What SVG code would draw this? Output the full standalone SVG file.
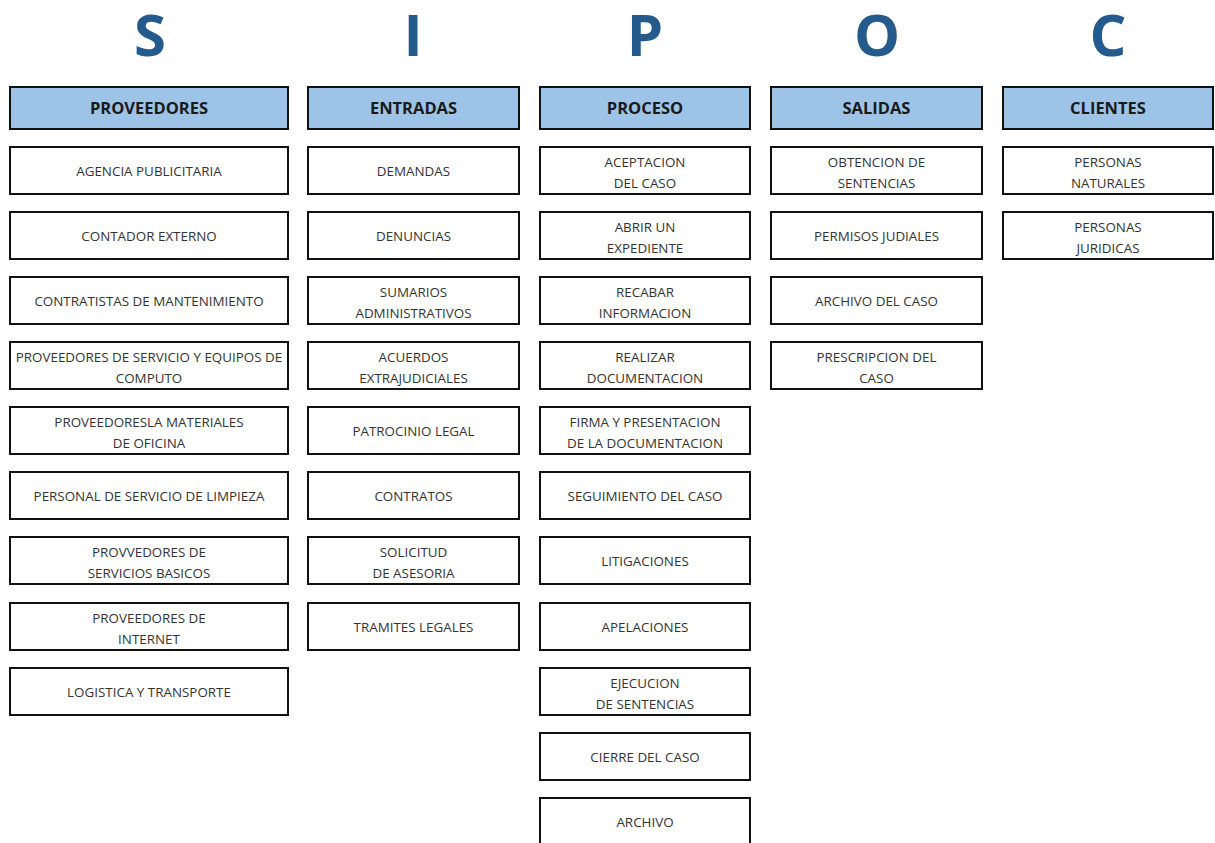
<svg xmlns="http://www.w3.org/2000/svg" width="1215" height="843" viewBox="0 0 1215 843">
  <style>
    .letter { font-family: "Open Sans", "Liberation Sans", sans-serif; font-weight: 700; font-size: 58px; fill: #245a8c; text-anchor: middle; }
    .head rect { fill: #9dc3e6; stroke: #111; stroke-width: 2; }
    .head text { font-family: "Open Sans", "Liberation Sans", sans-serif; font-weight: 700; font-size: 16.5px; fill: #1a1a1a; text-anchor: middle; }
    .box rect { fill: #fff; stroke: #111; stroke-width: 2; }
    .box text { font-family: "Open Sans", "Liberation Sans", sans-serif; font-size: 13.4px; fill: #333; text-anchor: middle; }
  </style>
  <rect width="1215" height="843" fill="#fff"/>

  <!-- title letters -->
  <g id="letters">
    <text class="letter" x="150" y="56">S</text>
    <text class="letter" x="413" y="56">I</text>
    <text class="letter" x="645" y="56">P</text>
    <text class="letter" x="877" y="56">O</text>
    <text class="letter" x="1108" y="56">C</text>
  </g>

  <!-- column headers -->
  <g id="h-proveedores" class="head"><rect x="10" y="87" width="278" height="42"/><text x="149" y="114">PROVEEDORES</text></g>
  <g id="h-entradas" class="head"><rect x="308" y="87" width="211" height="42"/><text x="413.5" y="114">ENTRADAS</text></g>
  <g id="h-proceso" class="head"><rect x="540" y="87" width="210" height="42"/><text x="645" y="114">PROCESO</text></g>
  <g id="h-salidas" class="head"><rect x="771" y="87" width="211" height="42"/><text x="876.5" y="114">SALIDAS</text></g>
  <g id="h-clientes" class="head"><rect x="1003" y="87" width="210" height="42"/><text x="1108" y="114">CLIENTES</text></g>

  <!-- proveedores -->
  <g id="s1" class="box"><rect x="10" y="147" width="278" height="47"/><text x="149" y="176">AGENCIA PUBLICITARIA</text></g>
  <g id="s2" class="box"><rect x="10" y="212" width="278" height="47"/><text x="149" y="241">CONTADOR EXTERNO</text></g>
  <g id="s3" class="box"><rect x="10" y="277" width="278" height="47"/><text x="149" y="306">CONTRATISTAS DE MANTENIMIENTO</text></g>
  <g id="s4" class="box"><rect x="10" y="342" width="278" height="47"/><text x="149" y="362">PROVEEDORES DE SERVICIO Y EQUIPOS DE</text><text x="149" y="383">COMPUTO</text></g>
  <g id="s5" class="box"><rect x="10" y="407" width="278" height="47"/><text x="149" y="427">PROVEEDORESLA MATERIALES</text><text x="149" y="448">DE OFICINA</text></g>
  <g id="s6" class="box"><rect x="10" y="472" width="278" height="47"/><text x="149" y="501">PERSONAL DE SERVICIO DE LIMPIEZA</text></g>
  <g id="s7" class="box"><rect x="10" y="537" width="278" height="47"/><text x="149" y="557">PROVVEDORES DE</text><text x="149" y="578">SERVICIOS BASICOS</text></g>
  <g id="s8" class="box"><rect x="10" y="603" width="278" height="47"/><text x="149" y="623">PROVEEDORES DE</text><text x="149" y="644">INTERNET</text></g>
  <g id="s9" class="box"><rect x="10" y="668" width="278" height="47"/><text x="149" y="697">LOGISTICA Y TRANSPORTE</text></g>

  <!-- entradas -->
  <g id="i1" class="box"><rect x="308" y="147" width="211" height="47"/><text x="413.5" y="176">DEMANDAS</text></g>
  <g id="i2" class="box"><rect x="308" y="212" width="211" height="47"/><text x="413.5" y="241">DENUNCIAS</text></g>
  <g id="i3" class="box"><rect x="308" y="277" width="211" height="47"/><text x="413.5" y="297">SUMARIOS</text><text x="413.5" y="318">ADMINISTRATIVOS</text></g>
  <g id="i4" class="box"><rect x="308" y="342" width="211" height="47"/><text x="413.5" y="362">ACUERDOS</text><text x="413.5" y="383">EXTRAJUDICIALES</text></g>
  <g id="i5" class="box"><rect x="308" y="407" width="211" height="47"/><text x="413.5" y="436">PATROCINIO LEGAL</text></g>
  <g id="i6" class="box"><rect x="308" y="472" width="211" height="47"/><text x="413.5" y="501">CONTRATOS</text></g>
  <g id="i7" class="box"><rect x="308" y="537" width="211" height="47"/><text x="413.5" y="557">SOLICITUD</text><text x="413.5" y="578">DE ASESORIA</text></g>
  <g id="i8" class="box"><rect x="308" y="603" width="211" height="47"/><text x="413.5" y="632">TRAMITES LEGALES</text></g>

  <!-- proceso -->
  <g id="p1" class="box"><rect x="540" y="147" width="210" height="47"/><text x="645" y="167">ACEPTACION</text><text x="645" y="188">DEL CASO</text></g>
  <g id="p2" class="box"><rect x="540" y="212" width="210" height="47"/><text x="645" y="232">ABRIR UN</text><text x="645" y="253">EXPEDIENTE</text></g>
  <g id="p3" class="box"><rect x="540" y="277" width="210" height="47"/><text x="645" y="297">RECABAR</text><text x="645" y="318">INFORMACION</text></g>
  <g id="p4" class="box"><rect x="540" y="342" width="210" height="47"/><text x="645" y="362">REALIZAR</text><text x="645" y="383">DOCUMENTACION</text></g>
  <g id="p5" class="box"><rect x="540" y="407" width="210" height="47"/><text x="645" y="427">FIRMA Y PRESENTACION</text><text x="645" y="448">DE LA DOCUMENTACION</text></g>
  <g id="p6" class="box"><rect x="540" y="472" width="210" height="47"/><text x="645" y="501">SEGUIMIENTO DEL CASO</text></g>
  <g id="p7" class="box"><rect x="540" y="537" width="210" height="47"/><text x="645" y="566">LITIGACIONES</text></g>
  <g id="p8" class="box"><rect x="540" y="603" width="210" height="47"/><text x="645" y="632">APELACIONES</text></g>
  <g id="p9" class="box"><rect x="540" y="668" width="210" height="47"/><text x="645" y="688">EJECUCION</text><text x="645" y="709">DE SENTENCIAS</text></g>
  <g id="p10" class="box"><rect x="540" y="733" width="210" height="47"/><text x="645" y="762">CIERRE DEL CASO</text></g>
  <g id="p11" class="box"><rect x="540" y="798" width="210" height="47"/><text x="645" y="827">ARCHIVO</text></g>

  <!-- salidas -->
  <g id="o1" class="box"><rect x="771" y="147" width="211" height="47"/><text x="876.5" y="167">OBTENCION DE</text><text x="876.5" y="188">SENTENCIAS</text></g>
  <g id="o2" class="box"><rect x="771" y="212" width="211" height="47"/><text x="876.5" y="241">PERMISOS JUDIALES</text></g>
  <g id="o3" class="box"><rect x="771" y="277" width="211" height="47"/><text x="876.5" y="306">ARCHIVO DEL CASO</text></g>
  <g id="o4" class="box"><rect x="771" y="342" width="211" height="47"/><text x="876.5" y="362">PRESCRIPCION DEL</text><text x="876.5" y="383">CASO</text></g>

  <!-- clientes -->
  <g id="c1" class="box"><rect x="1003" y="147" width="210" height="47"/><text x="1108" y="167">PERSONAS</text><text x="1108" y="188">NATURALES</text></g>
  <g id="c2" class="box"><rect x="1003" y="212" width="210" height="47"/><text x="1108" y="232">PERSONAS</text><text x="1108" y="253">JURIDICAS</text></g>

  <!-- no connectors in this chart -->
  <g id="connectors"/>
</svg>
